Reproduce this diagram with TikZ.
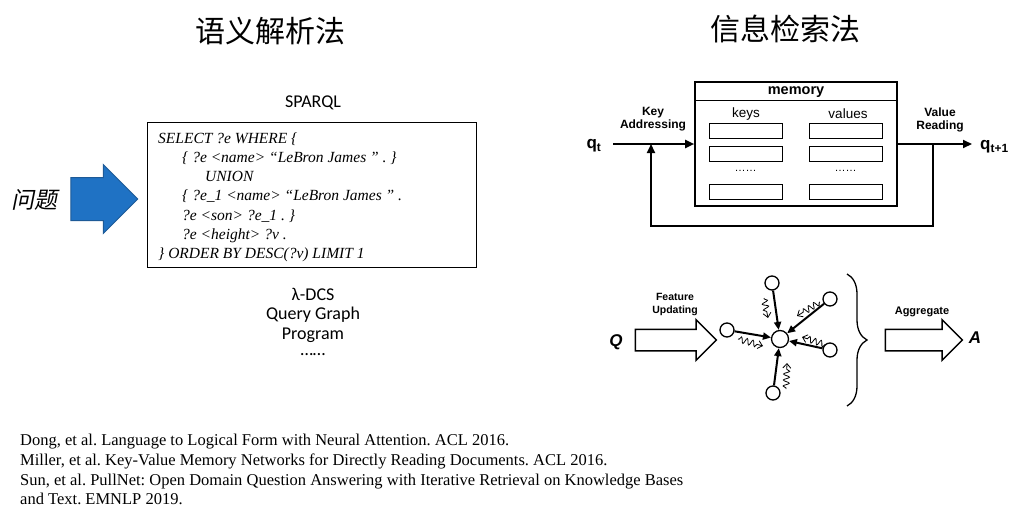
\documentclass[tikz,border=0pt]{standalone}
\usepackage{fontspec}
\setmainfont{Liberation Serif}
\setsansfont{Liberation Sans}
\newfontfamily\cjk{Noto Sans CJK SC}
\newfontfamily\cjkit[FakeSlant=0.2]{Noto Sans CJK SC}
\newfontfamily\calib{Carlito}
\usetikzlibrary{arrows.meta,shapes.arrows,decorations.pathmorphing,decorations.pathreplacing}
\definecolor{arrowblue}{HTML}{1F72C4}
\definecolor{arrowedge}{HTML}{1D5A97}
\tikzset{
  title/.style={font=\cjk\fontsize{30}{36}\selectfont},
  calib/.style={font=\calib\fontsize{18}{20}\selectfont,inner sep=0pt},
  querybox/.style={draw,line width=1pt,minimum width=329pt,minimum height=145pt},
  code/.style={anchor=base west,font=\itshape\fontsize{15.5}{18}\selectfont,inner sep=0pt},
  bluearrow/.style={single arrow,draw=arrowedge,fill=arrowblue,line width=1pt,
    single arrow head extend=13pt,minimum height=67pt,inner xsep=0pt,inner ysep=21pt},
  membox/.style={draw,line width=1.6pt,minimum width=202pt,minimum height=124pt},
  slot/.style={draw,line width=0.9pt,minimum width=73pt,minimum height=15pt,inner sep=0pt},
  lbl/.style={font=\sffamily\bfseries\fontsize{12}{13}\selectfont,align=center,inner sep=0pt},
  flow/.style={-{Triangle[length=9pt,width=8pt]},line width=2pt},
  gnode/.style={circle,draw,line width=1.3pt,minimum size=14pt,inner sep=0pt,fill=white},
  edge/.style={-{Triangle[length=8pt,width=7pt]},line width=2pt},
  squig/.style={decorate,decoration={snake,amplitude=3pt,segment length=6pt,pre length=1pt,post length=5pt},
    -{Straight Barb[length=4.5pt,width=8pt]},line width=0.8pt},
  hollow/.style={single arrow,draw,line width=1.5pt,single arrow head extend=9.5pt,
    inner xsep=0pt,inner ysep=10pt},
  ref/.style={anchor=base west,font=\fontsize{16.5}{18}\selectfont,inner sep=0pt}
}
\begin{document}
\frenchspacing
\begin{tikzpicture}[x=1pt,y=-1pt]
  \useasboundingbox (0,0) rectangle (1025,522);
  \node[title] (tleft) at (270,31) {语义解析法};
  \node[title] (tright) at (785,29) {信息检索法};

  % semantic parsing
  \node[font=\cjkit\fontsize{23}{26}\selectfont] (question) at (35,200) {问题};
  \node[bluearrow] (qarrow) at (93.5,199) {};
  \node[calib] (sparql) at (313,103) {SPARQL};
  \node[querybox] (query) at (311.5,194.5) {};
  \node[code] (c1) at (158,143) {SELECT ?e WHERE \{};
  \node[code] (c2) at (182,162.3) {\{ ?e <name> “LeBron James ” . \}};
  \node[code] (c3) at (205,181.6) {UNION};
  \node[code] (c4) at (182,200.9) {\{ ?e\_1 <name> “LeBron James ” .};
  \node[code] (c5) at (182,220.2) {?e <son> ?e\_1 . \}};
  \node[code] (c6) at (182,239.5) {?e <height> ?v .};
  \node[code] (c7) at (158,258.8) {\} ORDER BY DESC(?v) LIMIT 1};
  \node[calib] (dcs) at (313,294) {λ-DCS};
  \node[calib] (qgraph) at (313,314.5) {Query Graph};
  \node[calib] (prog) at (313,335) {Program};
  \node[calib] (more) at (313,355) {……};

  % key-value memory
  \node[membox] (mem) at (796,144) {};
  \draw[line width=1.2pt] ([yshift=-19pt]mem.north west) -- ([yshift=-19pt]mem.north east);
  \node[font=\sffamily\bfseries\fontsize{14.5}{16}\selectfont] (memlbl) at (796,92.5) {memory};
  \node[font=\sffamily\fontsize{13.5}{15}\selectfont] (keys) at (746,114) {keys};
  \node[font=\sffamily\fontsize{13.5}{15}\selectfont] (vals) at (848,114) {values};
  \foreach \y/\i in {130.5/1,153.5/2,191.5/3} {
    \node[slot] (k\i) at (745.5,\y) {};
    \node[slot] (v\i) at (845.5,\y) {};
  }
  \node[font=\sffamily\fontsize{11}{12}\selectfont] (kdots) at (745.5,171) {……};
  \node[font=\sffamily\fontsize{11}{12}\selectfont] (vdots) at (845.5,171) {……};
  \node[font=\sffamily\bfseries\fontsize{17}{18}\selectfont,inner sep=0pt] (qt) at (594,146)
    {q\textsubscript{t}};
  \node[font=\sffamily\bfseries\fontsize{17}{18}\selectfont,inner sep=0pt,anchor=west] (qnext) at (980,147)
    {q\textsubscript{t+1}};
  \node[lbl] (keyaddr) at (653,119.5) {Key\\Addressing};
  \node[lbl] (valread) at (940,119.5) {Value\\Reading};
  \coordinate (inL) at (613,144);
  \coordinate (outR) at (972,144);
  \coordinate (tap) at (933,144);
  \coordinate (join) at (651,144);
  \draw[flow] (inL) -- (mem.west);
  \draw[flow] (mem.east) -- (outR);
  \draw[flow] (tap) -- ++(0,82) -| (join);

  % graph retrieval
  \node[font=\sffamily\bfseries\itshape\fontsize{17}{18}\selectfont] (qin) at (616,342) {Q};
  \node[hollow,minimum height=81pt] (feat) at (670.5,340) {};
  \node[lbl,font=\sffamily\bfseries\fontsize{10.5}{13}\selectfont] (featlbl) at (675,304) {Feature\\Updating};
  \node[gnode,minimum size=17pt] (hub) at (780,339) {};
  \node[gnode] (n1) at (772,283) {};
  \node[gnode] (n2) at (830,299) {};
  \node[gnode] (n3) at (727,330) {};
  \node[gnode] (n4) at (830,350) {};
  \node[gnode] (n5) at (773,393) {};
  \foreach \n in {n1,n2,n3,n4,n5}
    \draw[edge] (\n) -- (hub);
  \foreach \a/\b in {{764,298}/{768,318},{820,302}/{797,316},{738,339}/{763,346},
                     {826,345}/{802,337},{786,389}/{787,363}}
    \draw[squig] (\a) -- (\b);
  \coordinate (btop) at (847,274);
  \coordinate (bbot) at (847,406);
  \draw[line width=1.3pt,decorate,decoration={brace,amplitude=20pt}] (btop) -- (bbot);
  \node[hollow,minimum height=77pt] (agg) at (918.5,340) {};
  \node[lbl,font=\sffamily\bfseries\fontsize{11}{13}\selectfont] (agglbl) at (922,312) {Aggregate};
  \node[font=\sffamily\bfseries\itshape\fontsize{17}{18}\selectfont] (ans) at (975,338) {A};

  % references
  \node[ref] (ref1) at (20,445) {Dong, et al. Language to Logical Form with Neural Attention. ACL 2016.};
  \node[ref] (ref2) at (20,465) {Miller, et al. Key-Value Memory Networks for Directly Reading Documents. ACL 2016.};
  \node[ref] (ref3) at (20,485) {Sun, et al. PullNet: Open Domain Question Answering with Iterative Retrieval on Knowledge Bases};
  \node[ref] (ref4) at (20,504) {and Text. EMNLP 2019.};
\end{tikzpicture}
\end{document}
